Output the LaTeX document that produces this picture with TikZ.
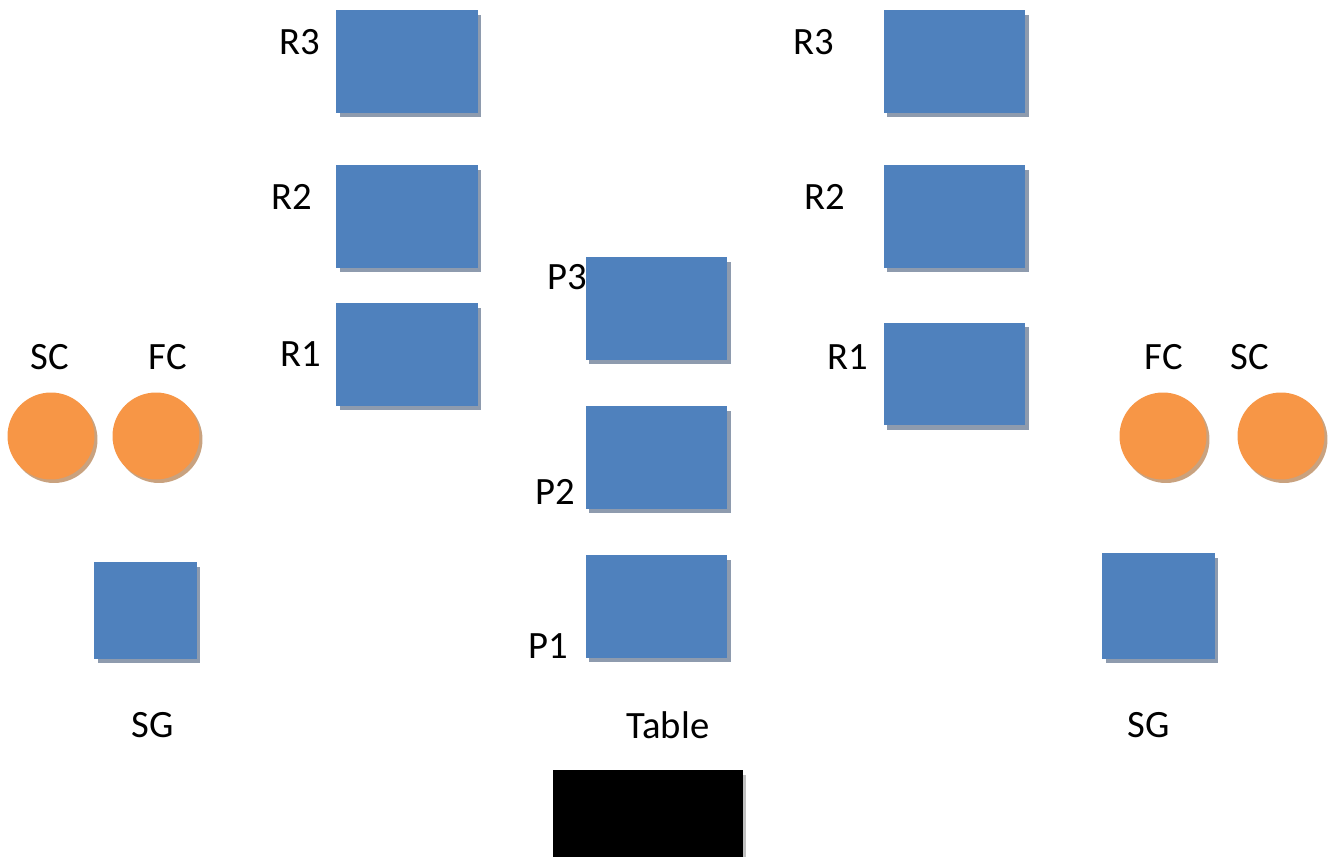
\documentclass[tikz,border=0pt]{standalone}
\usepackage{fontspec}
\setmainfont{Carlito}
\usetikzlibrary{shadows}
\tikzset{>=latex}
\definecolor{boxblue}{HTML}{4F81BD}
\definecolor{boxshade}{HTML}{8E9BAE}
\definecolor{ballorange}{HTML}{F79646}
\definecolor{ballshade}{HTML}{C9A27F}
\definecolor{tableshade}{HTML}{C0C0C0}
\tikzset{
  box/.style={fill=boxblue, inner sep=0pt, minimum width=2.84cm, minimum height=2.06cm,
    drop shadow={shadow xshift=0.07cm, shadow yshift=-0.09cm, fill=boxshade, opacity=1}},
  ball/.style={circle, fill=ballorange, inner sep=0pt, minimum size=1.74cm,
    drop shadow={shadow xshift=0.06cm, shadow yshift=-0.07cm, fill=ballshade, opacity=1}},
  lbl/.style={font=\fontsize{22}{26}\selectfont, inner sep=0pt}
}

\begin{document}
\begin{tikzpicture}[x=0.02cm,y=-0.02cm]
  \useasboundingbox (0,0) rectangle (1330,857);
  % left robots
  \node[box] (lr3) at (407,61.5)  {};
  \node[box] (lr2) at (407,216.5) {};
  \node[box] (lr1) at (407,354.5) {};
  \node[lbl] (lr3t) at (300,42)  {R3};
  \node[lbl] (lr2t) at (292,197) {R2};
  \node[lbl] (lr1t) at (301,354) {R1};
  % players
  \node[box] (p3) at (656.5,308.5) {};
  \node[box] (p2) at (656.5,457.5) {};
  \node[box] (p1) at (656.5,606.5) {};
  \node[lbl] (p3t) at (567,277) {P3};
  \node[lbl] (p2t) at (555,492) {P2};
  \node[lbl] (p1t) at (548,646) {P1};
  % right robots
  \node[box] (rr3) at (954.5,61.5)  {};
  \node[box] (rr2) at (954.5,216.5) {};
  \node[box] (rr1) at (954.5,374)   {};
  \node[lbl] (rr3t) at (814,42)  {R3};
  \node[lbl] (rr2t) at (825,197) {R2};
  \node[lbl] (rr1t) at (848,357) {R1};
  % cameras
  \node[ball] (lsc) at (51,436)   {};
  \node[ball] (lfc) at (156,436)  {};
  \node[ball] (rfc) at (1163,436) {};
  \node[ball] (rsc) at (1281,436) {};
  \node[lbl] (lsct) at (50,357)   {SC};
  \node[lbl] (lfct) at (168,357)  {FC};
  \node[lbl] (rfct) at (1164,357) {FC};
  \node[lbl] (rsct) at (1250,357) {SC};
  % signal generators
  \node[box, minimum width=2.06cm, minimum height=1.94cm] (lsg) at (145.5,610.5) {};
  \node[box, minimum width=2.26cm, minimum height=2.12cm] (rsg) at (1158.5,606)  {};
  \node[lbl] (lsgt) at (153,725)  {SG};
  \node[lbl] (rsgt) at (1149,725) {SG};
  % table
  \node[lbl] (tablet) at (668,725) {Table};
  \node[fill=black, inner sep=0pt, minimum width=3.8cm, minimum height=2cm,
    drop shadow={shadow xshift=0.07cm, shadow yshift=-0.09cm, fill=tableshade, opacity=1}]
    (table) at (648,820) {};
\end{tikzpicture}
\end{document}
